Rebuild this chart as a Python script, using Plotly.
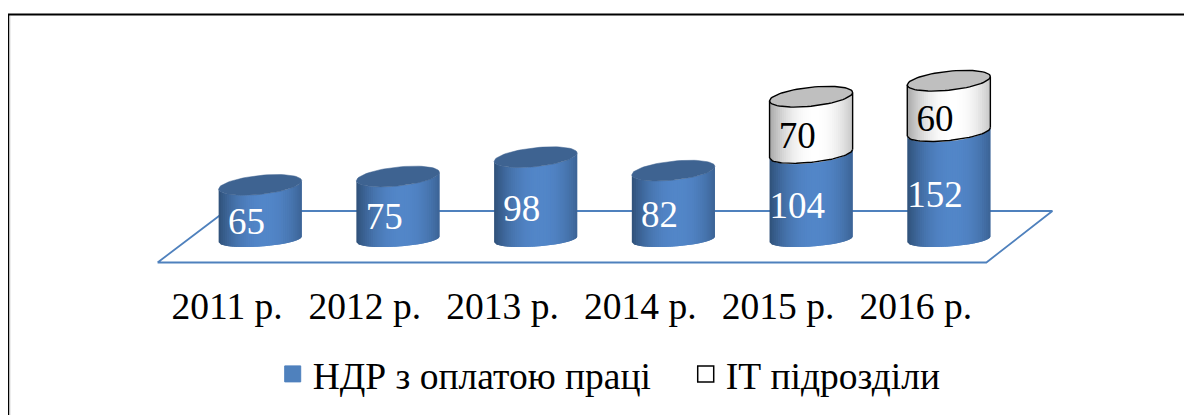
import numpy as np
import plotly.graph_objects as go

categories = ["2011 р.", "2012 р.", "2013 р.", "2014 р.", "2015 р.", "2016 р."]
ndr_labels = [65, 75, 98, 82, 104, 152]
it_labels = [None, None, None, None, 70, 60]
# Heights as actually drawn in the picture (the last blue body is shorter than its label)
ndr_heights = [65, 75, 98, 82, 102, 128]
it_heights = [0, 0, 0, 0, 68, 61]
series_names = ["НДР з оплатою праці", "ІТ підрозділи"]

# style / layout (page pixels; the page body adds an 8 px offset to the figure)
FONT = "Liberation Serif"
OFF = 8
W, H = 1192 - OFF, 415 - OFF
PX_X = 137.6
PX_Y = 0.84
L, R, T, B = 150.4, 1058.6, 30, 278
Y0 = 239.5
X_RANGE = [-0.8, 5.8]
Y_RANGE = [-(B - Y0) / PX_Y, (Y0 - T) / PX_Y]
HALF_W = 41.5 / PX_X
BLUE_SIDE = ["#2f5078", "#5286c8"]
BLUE_TOP = "#3e6391"
GREY_SIDE = ["#a6a6a6", "#ffffff"]
GREY_TOP = "#bfbfbf"
N_STRIPS = 40
TOP_B, TOP_S = 9.5 / PX_Y, 4.2 / PX_Y
BOT_B, BOT_S = 7.0 / PX_Y, 2.8 / PX_Y
ndr_label_pos = [0.174, 0.23, 0.273, 0.24, 0.298, 0.34]
it_label_pos = [None, None, None, None, 0.167, 0.097]
LABEL_SHIFT = -0.1
LABEL_DY = 5.5 / PX_Y
TICK_SHIFT = -0.24

fig = go.Figure()


def mix(c, t):
    a, b = c
    a = [int(a[i:i + 2], 16) for i in (1, 3, 5)]
    b = [int(b[i:i + 2], 16) for i in (1, 3, 5)]
    return "rgb(%d,%d,%d)" % tuple(round(p + (q - p) * t) for p, q in zip(a, b))


def edge(y, b, s, u):
    """Lower arc of a tilted ellipse; u in [-1, 1] across the width."""
    return y - b * np.sqrt(np.clip(1 - u ** 2, 0, 1)) + s * u


def add_poly(xs, ys, color, line=None, lw=0.0):
    fig.add_trace(go.Scatter(
        x=list(xs), y=list(ys), mode="lines", fill="toself", fillcolor=color,
        line=dict(color=line or color, width=lw), showlegend=False,
        hoverinfo="skip"))


def cylinder(i, y0, y1, side, top=None, b0=(BOT_B, BOT_S), b1=(TOP_B, TOP_S), outline=None):
    edges = np.linspace(-1, 1, N_STRIPS + 1)
    for k in range(N_STRIPS):
        # each strip runs on under the next one, so that no seams show
        u = np.linspace(edges[k], edges[min(k + 2, N_STRIPS)], 5)
        mid = (edges[k] + edges[k + 1]) / 2
        t = 1 - min(1, abs(mid - 0.1) / 1.1) ** 2.2
        xs = i + u * HALF_W
        low = edge(y0, b0[0], b0[1], u)
        up = edge(y1, b1[0], b1[1], u)
        add_poly(list(xs) + list(xs[::-1]) + [xs[0]],
                 list(low) + list(up[::-1]) + [low[0]], mix(side, t))
    if top:
        th = np.linspace(0, 2 * np.pi, 73)
        u = np.cos(th)
        ex = i + u * HALF_W
        ey = y1 + b1[0] * np.sin(th) + b1[1] * u
        add_poly(ex, ey, top, line=outline or top, lw=1.4 if outline else 0.5)
    if outline:
        u = np.linspace(-1, 1, 60)
        xs = i + u * HALF_W
        fig.add_trace(go.Scatter(
            x=list(xs), y=list(edge(y0, b0[0], b0[1], u)), mode="lines",
            line=dict(color=outline, width=1.4), showlegend=False, hoverinfo="skip"))
        for sgn in (-1, 1):
            fig.add_trace(go.Scatter(
                x=[i + sgn * HALF_W] * 2,
                y=[y0 + b0[1] * sgn, y1 + b1[1] * sgn], mode="lines",
                line=dict(color=outline, width=1.4), showlegend=False, hoverinfo="skip"))


def to_data(px, py):
    return (px - 260.5) / PX_X, (Y0 - py) / PX_Y


# floor
floor_px = [(158, 262.5), (986, 262.5), (1052, 211), (226, 211), (158, 262.5)]
fx, fy = zip(*[to_data(*p) for p in floor_px])
fig.add_trace(go.Scatter(x=fx, y=fy, mode="lines", line=dict(color="#4f81bd", width=1.8),
                         showlegend=False, hoverinfo="skip"))

for i, (h, g) in enumerate(zip(ndr_heights, it_heights)):
    cylinder(i, 0, h, BLUE_SIDE, top=None if g else BLUE_TOP)
    if g:
        cylinder(i, h, h + g, GREY_SIDE, top=GREY_TOP, b0=(TOP_B * 0.9, TOP_S), outline="#000000")

# data labels
fig.add_trace(go.Scatter(
    x=[i + LABEL_SHIFT for i in range(6)],
    y=[h * p + LABEL_DY for h, p in zip(ndr_heights, ndr_label_pos)],
    mode="text", text=[str(v) for v in ndr_labels],
    textfont=dict(family=FONT, size=37, color="#ffffff"),
    textposition="middle center", showlegend=False, hoverinfo="skip"))
idx = [i for i, v in enumerate(it_labels) if v is not None]
fig.add_trace(go.Scatter(
    x=[i + LABEL_SHIFT for i in idx],
    y=[ndr_heights[i] + it_heights[i] * it_label_pos[i] + LABEL_DY for i in idx],
    mode="text", text=[str(it_labels[i]) for i in idx],
    textfont=dict(family=FONT, size=37, color="#000000"),
    textposition="middle center", showlegend=False, hoverinfo="skip"))

# legend entries
fig.add_trace(go.Scatter(x=[None], y=[None], mode="markers", name=series_names[0],
                         marker=dict(symbol="square", size=16, color="#4f81bd",
                                     line=dict(color="#4f81bd", width=1))))
fig.add_trace(go.Scatter(x=[None], y=[None], mode="markers", name=series_names[1],
                         marker=dict(symbol="square", size=16, color="#ffffff",
                                     line=dict(color="#000000", width=1.5))))


def px_x(p):
    return (p - L) / (R - L)


def px_y(p):
    return (B - p) / (B - T)


fig.add_shape(type="path", xref="paper", yref="paper",
              path=f"M {px_x(8.8)} {px_y(420)} L {px_x(8.8)} {px_y(14.5)} L {px_x(1200)} {px_y(14.5)}",
              line=dict(color="#000000", width=2))
fig.add_shape(type="line", xref="paper", yref="paper",
              x0=px_x(10.3), x1=px_x(10.3), y0=px_y(420), y1=px_y(16),
              line=dict(color="#bdbdbd", width=1))

fig.update_layout(
    width=W, height=H, autosize=False,
    margin=dict(l=L - OFF, r=W - (R - OFF), t=T - OFF, b=H - (B - OFF), autoexpand=False),
    paper_bgcolor="#ffffff", plot_bgcolor="rgba(0,0,0,0)",
    font=dict(family=FONT, size=37.5, color="#000000"),
    xaxis=dict(range=X_RANGE, tickmode="array", tickvals=[i + TICK_SHIFT for i in range(6)],
               ticktext=categories, showgrid=False, zeroline=False, showline=False, ticks="",
               ticklen=0, ticklabelstandoff=2, tickfont=dict(family=FONT, size=37.5), fixedrange=True),
    yaxis=dict(range=Y_RANGE, visible=False, fixedrange=True),
    legend=dict(orientation="h", x=px_x(273), y=px_y(343), xanchor="left", yanchor="top",
                font=dict(family=FONT, size=37.5), bgcolor="rgba(0,0,0,0)",
                itemsizing="trace", traceorder="normal",
                entrywidth=368, entrywidthmode="pixels"),
)
fig.write_html("out.html")
